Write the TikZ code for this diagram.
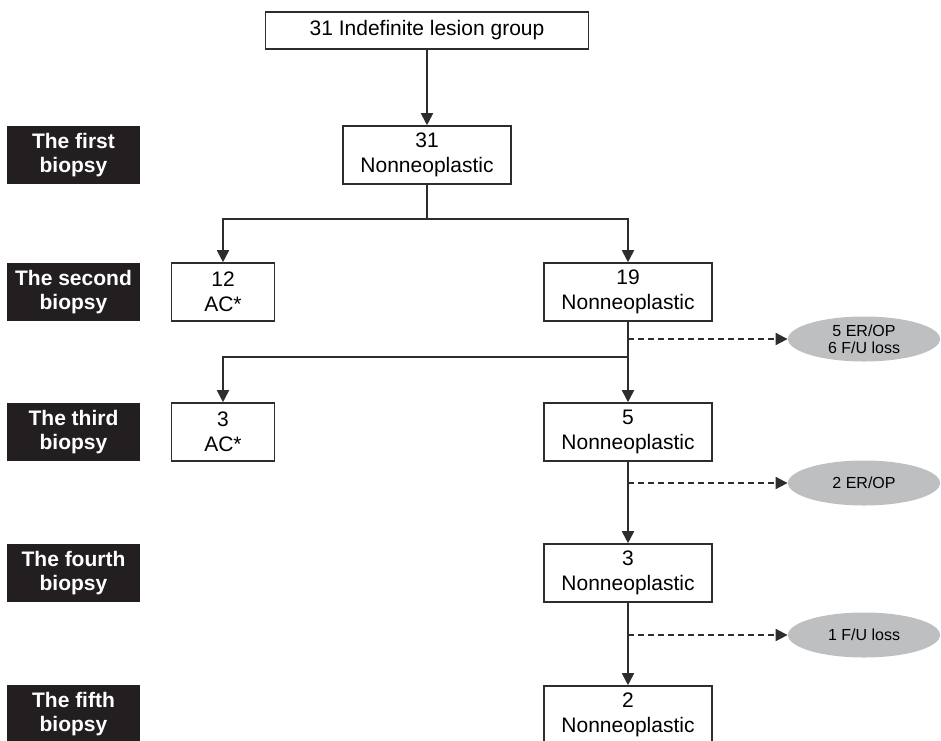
\documentclass[tikz,border=0pt]{standalone}
\usepackage{fontspec}
\setmainfont{Liberation Sans}
\usetikzlibrary{arrows.meta,shapes.geometric}
\definecolor{labelfill}{RGB}{35,31,32}
\definecolor{outfill}{RGB}{190,191,193}
\definecolor{edge}{RGB}{45,45,45}

\begin{document}
\begin{tikzpicture}[x=0.5pt,y=-0.5pt,
  every node/.style={font=\fontsize{10.5}{12.5}\selectfont},
  box/.style={draw=edge,line width=0.8pt,fill=white,align=center,inner sep=0pt,minimum height=29pt},
  stage/.style={fill=labelfill,text=white,font=\fontsize{10.5}{12}\selectfont\bfseries,align=center,inner sep=0pt,minimum width=66.5pt,minimum height=29pt},
  outcome/.style={ellipse,fill=outfill,align=center,inner sep=0pt,minimum width=76pt,minimum height=22.5pt,font=\fontsize{8}{8.5}\selectfont},
  link/.style={draw=edge,line width=0.9pt,-{Triangle[length=6pt,width=6pt]}},
  loss/.style={link,dash pattern=on 3pt off 2pt}]
\useasboundingbox (0,0) rectangle (941,740);
% stage labels
\node[stage] (stage1) at (73.5,155) {The first\\biopsy};
\node[stage] (stage2) at (73.5,292) {The second\\biopsy};
\node[stage] (stage3) at (73.5,432) {The third\\biopsy};
\node[stage] (stage4) at (73.5,573) {The fourth\\biopsy};
\node[stage] (stage5) at (73.5,714) {The fifth\\biopsy};
% boxes
\node[box,minimum width=161.5pt,minimum height=18.5pt] (total) at (427,30.5) {31 Indefinite lesion group};
\node[box,minimum width=84pt] (non1) at (427,155) {31\\Nonneoplastic};
\node[box,minimum width=51.5pt] (ac2) at (223,292) {12\\AC*};
\node[box,minimum width=84pt] (non2) at (628,292) {19\\Nonneoplastic};
\node[box,minimum width=51.5pt] (ac3) at (223,432) {3\\AC*};
\node[box,minimum width=84pt] (non3) at (628,432) {5\\Nonneoplastic};
\node[box,minimum width=84pt] (non4) at (628,573) {3\\Nonneoplastic};
\node[box,minimum width=84pt] (non5) at (628,715) {2\\Nonneoplastic};
% drop-outs
\node[outcome] (out2) at (864,339) {5 ER/OP\\6 F/U loss};
\node[outcome] (out3) at (864,483) {2 ER/OP};
\node[outcome] (out4) at (864,635) {1 F/U loss};
% branch points
\coordinate (split1) at (427,219);
\coordinate (split2) at (628,357);
% connectors
\draw[link] (total) -- (non1);
\draw[link] (non1.south) -- (split1) -| (ac2.north);
\draw[link] (split1) -| (non2.north);
\draw[link] (non2) -- (non3);
\draw[link] (split2) -| (ac3.north);
\draw[link] (non3) -- (non4);
\draw[link] (non4) -- (non5);
\draw[loss] (non2.south |- out2.west) -- (out2.west);
\draw[loss] (non3.south |- out3.west) -- (out3.west);
\draw[loss] (non4.south |- out4.west) -- (out4.west);
\end{tikzpicture}
\end{document}
